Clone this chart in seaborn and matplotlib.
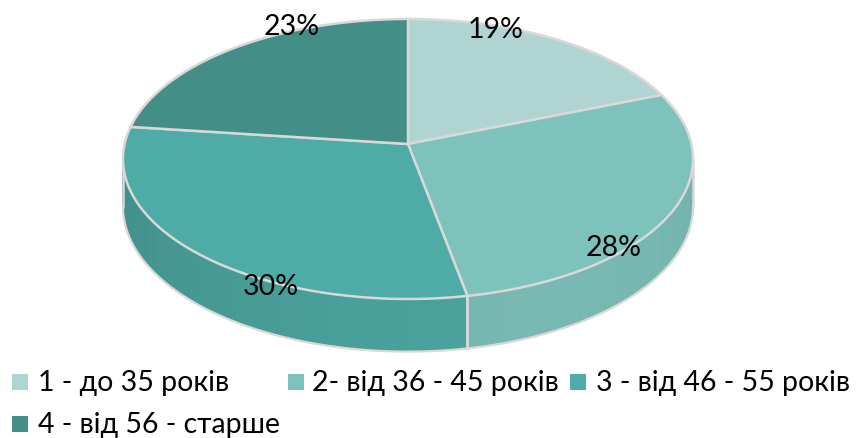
import numpy as np
import matplotlib
matplotlib.use("Agg")
import matplotlib.pyplot as plt
from matplotlib.patches import Polygon, Rectangle
import seaborn as sns

# ---------------- data ----------------
categories = ["1 - до 35 років", "2- від 36 - 45 років",
              "3 - від 46 - 55 років", "4 - від 56 - старше"]
values = [19, 28, 30, 23]
pct_labels = ["19%", "28%", "30%", "23%"]
top_colors = ["#B0D4D2", "#7DC2BB", "#4EABA5", "#438F88"]

# ---------------- style ----------------
sns.set_theme(style="white")
plt.rcParams["font.family"] = ["Lato", "DejaVu Sans"]
palette = sns.color_palette(top_colors)

W, H = 860, 439
fig = plt.figure(figsize=(W / 100, H / 100), dpi=100)
ax = fig.add_axes([0, 0, 1, 1])
ax.set_xlim(0, W)
ax.set_ylim(H, 0)
ax.axis("off")

# projection of the tilted disk (perspective)
CX, CY = 408, 145
A, B, E = 283.4, 138.4, 0.107
DEPTH = 47
EDGE = "#D9D9D9"
FS = 20.5


def project(phi, z=0.0):
    u = np.sin(phi)
    v = np.cos(phi)
    w = 1 + E * v
    return CX + A * u / w, CY - B * v / w + DEPTH * z / w


fr = np.cumsum([0] + values) / float(sum(values))
angles = 2 * np.pi * fr
vis_lo = np.arccos(-E)            # right silhouette
vis_hi = 2 * np.pi - np.arccos(-E)  # left silhouette


def shade(rgb, phi):
    f = 0.865 + 0.085 * np.cos(phi - np.deg2rad(150))
    return tuple(min(1, c * f) for c in rgb)


# ---------- side walls ----------
for i in range(len(values)):
    a1, a2 = angles[i], angles[i + 1]
    lo, hi = max(a1, vis_lo), min(a2, vis_hi)
    if hi <= lo:
        continue
    n = max(4, int((hi - lo) / np.deg2rad(0.5)))
    ph = np.linspace(lo, hi, n + 1)
    for p0, p1 in zip(ph[:-1], ph[1:]):
        x0t, y0t = project(p0)
        x1t, y1t = project(p1)
        x0b, y0b = project(p0, 1)
        x1b, y1b = project(p1, 1)
        col = shade(palette[i], 0.5 * (p0 + p1))
        ax.add_patch(Polygon([(x0t, y0t), (x1t, y1t), (x1b, y1b), (x0b, y0b)],
                             closed=True, facecolor=col, edgecolor=col,
                             lw=0.6, zorder=1))
    xs_b, ys_b = project(ph, 1)
    ax.plot(xs_b, ys_b, color=EDGE, lw=1.6, zorder=2, solid_capstyle="round")
    for p in (lo, hi):
        xt, yt = project(p)
        xb, yb = project(p, 1)
        ax.plot([xt, xb], [yt, yb], color=EDGE, lw=1.8, zorder=2)

# ---------- top faces ----------
for i in range(len(values)):
    a1, a2 = angles[i], angles[i + 1]
    ph = np.linspace(a1, a2, 200)
    xs, ys = project(ph)
    pts = [(CX, CY)] + list(zip(xs, ys))
    ax.add_patch(Polygon(pts, closed=True, facecolor=palette[i],
                         edgecolor=EDGE, lw=1.8, joinstyle="round", zorder=3))

# ---------- percentage labels ----------
label_pos = [(496, 30), (614, 248), (271, 287), (292, 27)]
for (x, y), t in zip(label_pos, pct_labels):
    ax.text(x, y, t, ha="center", va="center", fontsize=FS,
            color="black", zorder=5)

# ---------- legend ----------
leg_sq = [(12, 383), (288, 383), (570, 383), (12, 425)]
leg_txt_x = [38, 312, 596, 38]
SQ = 16
for (x, y), tx, cat, col in zip(leg_sq, leg_txt_x, categories, palette):
    ax.add_patch(Rectangle((x, y - SQ / 2), SQ, SQ, facecolor=col,
                           edgecolor="none", zorder=5))
    ax.text(tx, y, cat, ha="left", va="center", fontsize=FS,
            color="black", zorder=5)

fig.savefig("out.png", dpi=100)
